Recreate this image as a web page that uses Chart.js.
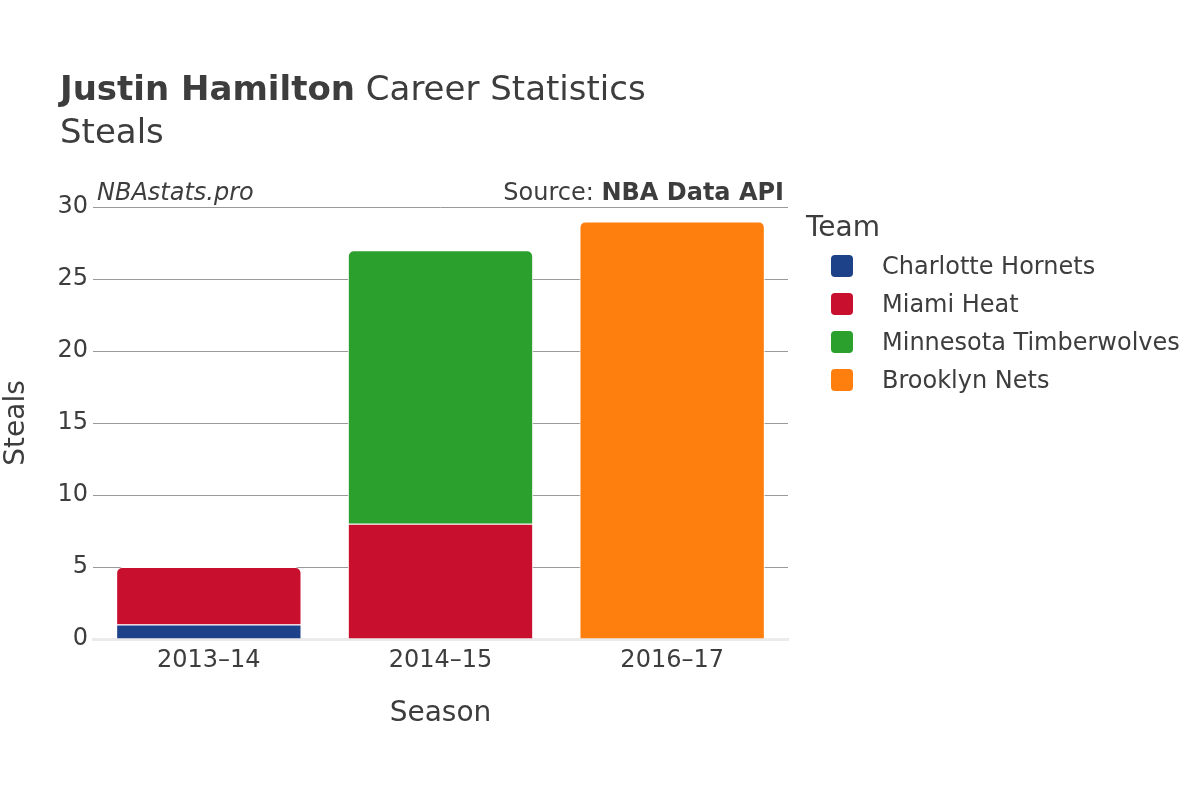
<!DOCTYPE html>
<html>
<head>
<meta charset="utf-8">
<script src="https://cdn.jsdelivr.net/npm/chart.js@4"></script>
<style>
  html, body { margin: 0; padding: 0; background: #fff; }
  #wrap { width: 1200px; height: 800px; }
</style>
</head>
<body>
<div id="wrap"><canvas id="chart" width="1200" height="800"></canvas></div>
<script>
const seasons = ['2013–14', '2014–15', '2016–17'];
const teams = ['Charlotte Hornets', 'Miami Heat', 'Minnesota Timberwolves', 'Brooklyn Nets'];
const teamColors = ['#1d428a', '#c8102e', '#2ca02c', '#ff7f0e'];
const charlotteSteals = [1, null, null];
const miamiSteals = [4, 8, null];
const minnesotaSteals = [null, 19, null];
const brooklynSteals = [null, null, 29];
const yTicks = [0, 5, 10, 15, 20, 25, 30];

const FONT = '"DejaVu Sans", sans-serif';
const TEXT = '#3d3d3d';

const seriesValues = [charlotteSteals, miamiSteals, minnesotaSteals, brooklynSteals];

// titles, annotations and legend drawn on top of the chart
const decorations = {
    id: 'decorations',
    afterDraw(chart) {
        const c = chart.ctx;
        c.save();
        c.fillStyle = TEXT;
        c.textBaseline = 'middle';
        c.textAlign = 'left';

        c.font = 'bold 34px ' + FONT;
        const bold = 'Justin Hamilton';
        c.fillText(bold, 60, 91);
        const w = c.measureText(bold).width;
        c.font = '34px ' + FONT;
        c.fillText(' Career Statistics', 60 + w, 91);
        c.fillText('Steals', 60, 134);

        c.font = 'italic 24px ' + FONT;
        c.fillText('NBAstats.pro', 97, 194);

        c.textAlign = 'right';
        c.font = 'bold 24px ' + FONT;
        const src = 'NBA Data API';
        c.fillText(src, 784, 194);
        const sw = c.measureText(src).width;
        c.font = '24px ' + FONT;
        c.fillText('Source: ', 784 - sw, 194);

        // legend
        c.textAlign = 'left';
        c.font = '28px ' + FONT;
        c.fillText('Team', 806, 229);
        c.font = '24px ' + FONT;
        chart.data.datasets.forEach((ds, i) => {
            const y = 266 + i * 38;
            c.fillStyle = ds.backgroundColor;
            c.beginPath();
            c.roundRect(831, y - 11, 22, 22, 4);
            c.fill();
            c.fillStyle = TEXT;
            c.fillText(ds.label, 882, y + 2);
        });
        c.restore();
    }
};

new Chart(document.getElementById('chart'), {
    type: 'bar',
    data: {
        labels: seasons,
        datasets: teams.map((team, i) => ({
            label: team,
            data: seriesValues[i],
            backgroundColor: teamColors[i],
            borderColor: '#ffffff',
            borderWidth: 1,
            borderRadius: 6,
            borderSkipped: 'start',
            categoryPercentage: 1,
            barPercentage: 0.8
        }))
    },
    options: {
        responsive: false,
        animation: false,
        layout: { padding: { left: 0, right: 412, top: 207, bottom: 69 } },
        plugins: {
            legend: { display: false },
            title: { display: false },
            tooltip: { enabled: false }
        },
        scales: {
            x: {
                stacked: true,
                grid: { display: false, drawTicks: false },
                border: { display: true, color: '#ebebeb', width: 3 },
                ticks: { color: TEXT, font: { family: FONT, size: 24 }, padding: 7 },
                title: {
                    display: true, text: 'Season', color: TEXT,
                    font: { family: FONT, size: 28 }, padding: 0
                },
                afterFit(scale) { scale.height = 92; }
            },
            y: {
                stacked: true,
                min: 0,
                max: 30,
                afterBuildTicks(scale) { scale.ticks = yTicks.map(v => ({ value: v })); },
                grid: {
                    drawTicks: false,
                    color: ctx => ctx.tick && ctx.tick.value === 0 ? 'rgba(0,0,0,0)' : '#9a9a9a',
                    lineWidth: 1
                },
                border: { display: false },
                ticks: { color: TEXT, font: { family: FONT, size: 24 }, padding: 5 },
                title: {
                    display: true, text: 'Steals', color: TEXT,
                    font: { family: FONT, size: 28 }, padding: { top: 0, bottom: 0 }
                },
                afterFit(scale) { scale.width = 93; }
            }
        }
    },
    plugins: [decorations]
});
</script>
</body>
</html>
